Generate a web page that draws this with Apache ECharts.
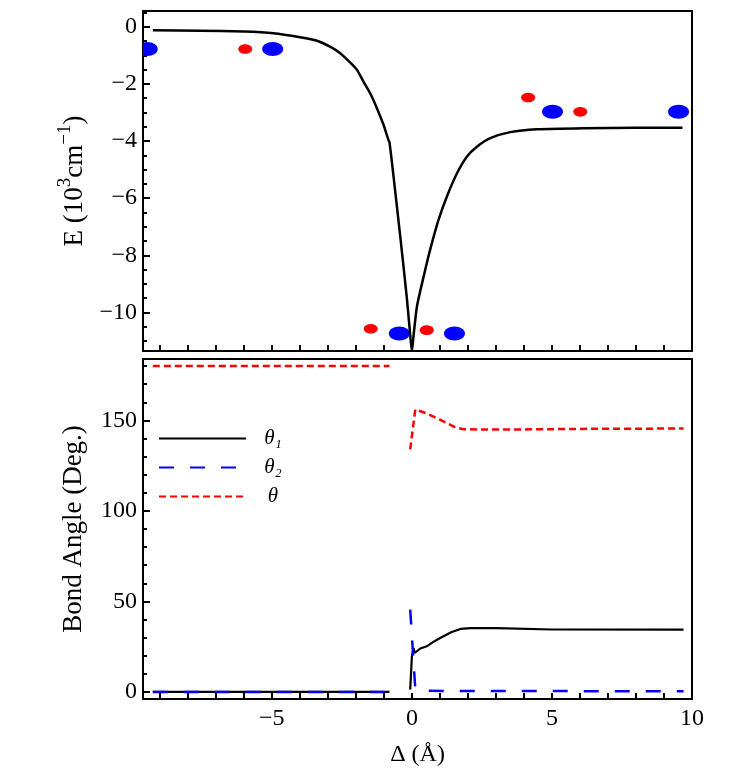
<!DOCTYPE html>
<html>
<head>
<meta charset="utf-8">
<script src="https://cdn.jsdelivr.net/npm/echarts@6/dist/echarts.min.js"></script>
<style>
html,body{margin:0;padding:0;background:#fff;}
#chart{width:746px;height:775px;}
</style>
</head>
<body>
<div id="chart"></div>
<script>
// ---- Top panel: energy curve ----
const energyDelta = [-9.25, -7.56, -6, -4.94, -3.99, -3.39, -2.92, -2.56, -2.2, -1.96, -1.73, -1.49, -1.25, -1.01, -0.84, -0.8, -0.66, -0.42, -0.18, -0.05, 0, 0.05, 0.18, 0.42, 0.65, 0.95, 1.25, 1.61, 1.96, 2.32, 2.8, 3.51, 4.46, 6.13, 8, 9.66];
const energyValues = [-0.12, -0.14, -0.17, -0.23, -0.37, -0.49, -0.70, -0.93, -1.26, -1.51, -1.92, -2.33, -2.85, -3.44, -3.96, -4.05, -5.2, -7.3, -9.5, -10.9, -11.35, -10.9, -9.79, -8.74, -7.81, -6.76, -5.94, -5.13, -4.55, -4.2, -3.9, -3.69, -3.59, -3.55, -3.54, -3.54];

// atoms drawn as ellipses
const blueAtomDelta = [-9.45, -4.97, -0.45, 1.52, 5.02, 9.52];
const blueAtomE = [-0.78, -0.78, -10.74, -10.74, -2.98, -2.98];
const redAtomDelta = [-5.95, -1.47, 0.53, 4.15, 6.01];
const redAtomE = [-0.78, -10.57, -10.62, -2.48, -2.98];

// ---- Bottom panel: bond angles ----
const theta1Delta = [-9.25, -0.8, -0.4, -0.06, 0, 0.06, 0.1, 0.3, 0.53, 0.75, 1.01, 1.4, 1.73, 2.1, 3, 5, 9.7];
const theta1Values = [0, 0, null, 1.3, 19.7, 24.3, 21.5, 24, 25.2, 27.5, 29.8, 33, 34.8, 35.3, 35.2, 34.5, 34.4];
const theta2Delta = [-9.25, -0.8, -0.4, -0.06, 0.12, 0.3, 9.7];
const theta2Values = [0, 0, null, 45.5, 2, 0.6, 0.35];
const thetaDelta = [-9.25, -0.8, -0.4, -0.06, 0.12, 0.5, 1.0, 1.5, 1.8, 2.5, 4, 6, 9.7];
const thetaValues = [180, 180, null, 134, 156, 154, 150.4, 146.5, 145.2, 144.9, 145, 145.3, 145.5];

// ---- Tick positions / labels ----
const xTickValues = [-9, -8, -7, -6, -5, -4, -3, -2, -1, 0, 1, 2, 3, 4, 5, 6, 7, 8, 9];
const xLabelValues = [-5, 0, 5, 10];
const eLabelValues = [-10, -8, -6, -4, -2, 0];
const eMinorTicks = [-11, -10.5, -9.5, -9, -8.5, -7.5, -7, -6.5, -5.5, -5, -4.5, -3.5, -3, -2.5, -1.5, -1, -0.5, 0.5];
const angleLabelValues = [0, 50, 100, 150];
const angleMinorTicks = [10, 20, 30, 40, 60, 70, 80, 90, 110, 120, 130, 140, 160, 170, 180];

const zip = (xs, ys) => xs.map((x, i) => [x, ys[i] === null ? '-' : ys[i]]);
const minus = v => String(v).replace('-', '\u2212');

const FONT = "'Liberation Serif','Times New Roman',serif";
const xMin = -9.6, xMax = 10;
const gridLeft = 143, gridW = 549;

const chart = echarts.init(document.getElementById('chart'), null, {renderer: 'canvas'});

// tick-only x axis (no labels)
function xTickAxis(gridIndex) {
  return {
    type: 'value', gridIndex, min: xMin, max: xMax, position: 'bottom', offset: 0,
    axisLine: {show: true, onZero: false, lineStyle: {color: '#000', width: 2}},
    splitLine: {show: false},
    axisTick: {show: true, inside: true, length: 6, customValues: xTickValues, lineStyle: {color: '#000', width: 2}},
    axisLabel: {show: false}
  };
}
// label-only x axis
function xLabelAxis(gridIndex) {
  return {
    type: 'value', gridIndex, min: xMin, max: xMax, position: 'bottom', offset: 0,
    name: '\u0394 (\u00c5)', nameLocation: 'middle', nameGap: 44,
    nameTextStyle: {fontFamily: FONT, fontSize: 24, color: '#000'},
    axisLine: {show: false, onZero: false},
    splitLine: {show: false},
    axisTick: {show: false},
    axisLabel: {show: true, customValues: xLabelValues, formatter: minus, fontFamily: FONT, fontSize: 24, color: '#000', margin: 8}
  };
}
function yMajor(gridIndex, min, max, labels, name, nameGap, nameStyle) {
  return {
    type: 'value', gridIndex, min, max, position: 'left',
    name, nameLocation: 'middle', nameGap,
    nameTextStyle: nameStyle,
    axisLine: {show: true, onZero: false, lineStyle: {color: '#000', width: 2}},
    splitLine: {show: false},
    axisTick: {show: true, inside: true, length: 7, customValues: labels, lineStyle: {color: '#000', width: 2}},
    axisLabel: {customValues: labels, formatter: minus, fontFamily: FONT, fontSize: 24, color: '#000', margin: 6}
  };
}
function yMinor(gridIndex, min, max, ticks) {
  return {
    type: 'value', gridIndex, min, max, position: 'left', offset: 0,
    axisLine: {show: false, onZero: false},
    splitLine: {show: false},
    axisTick: {show: true, inside: true, length: 4, customValues: ticks, lineStyle: {color: '#000', width: 2}},
    axisLabel: {show: false}
  };
}
function ellipseSeries(name, xs, ys, rx, ry, color) {
  return {
    name, type: 'custom', xAxisIndex: 0, yAxisIndex: 0, clip: true, z: 2,
    data: zip(xs, ys),
    encode: {x: 0, y: 1},
    renderItem: (params, api) => {
      const p = api.coord([api.value(0), api.value(1)]);
      return {type: 'ellipse', shape: {cx: p[0], cy: p[1], rx, ry}, style: {fill: color}};
    }
  };
}

const option = {
  animation: false,
  backgroundColor: '#fff',
  textStyle: {fontFamily: FONT},
  grid: [
    {left: gridLeft, width: gridW, top: 11, height: 340, show: true, borderColor: '#000', borderWidth: 2, backgroundColor: 'transparent'},
    {left: gridLeft, width: gridW, top: 359, height: 340, show: true, borderColor: '#000', borderWidth: 2, backgroundColor: 'transparent'}
  ],
  xAxis: [
    xTickAxis(0),
    xLabelAxis(1),
    xTickAxis(1)
  ],
  yAxis: [
    yMajor(0, -11.35, 0.55, eLabelValues, '{n|E (10}{s|3}{n|cm}{s|\u22121}{n|)}', 55,
      {fontFamily: FONT, color: '#000', rich: {
        n: {fontFamily: FONT, fontSize: 27, color: '#000', lineHeight: 32, verticalAlign: 'bottom'},
        s: {fontFamily: FONT, fontSize: 19, color: '#000', lineHeight: 32, verticalAlign: 'top'}
      }}),
    yMinor(0, -11.35, 0.55, eMinorTicks),
    yMajor(1, -3.9, 183.9, angleLabelValues, 'Bond Angle (Deg.)', 56,
      {fontFamily: FONT, fontSize: 27, color: '#000'}),
    yMinor(1, -3.9, 183.9, angleMinorTicks)
  ],
  legend: {
    show: true,
    data: ['\u03b8\u2081', '\u03b8\u2082', '\u03b8'],
    orient: 'vertical',
    left: 158, top: 428,
    itemWidth: 87, itemHeight: 14, itemGap: 8,
    padding: 0,
    itemStyle: {opacity: 0},
    formatter: name => '{t|' + name + '}',
    textStyle: {
      fontFamily: FONT, fontSize: 21, color: '#000', lineHeight: 20,
      rich: {t: {fontFamily: FONT, fontSize: 21, fontStyle: 'italic', color: '#000', width: 24, align: 'center', padding: [0, 0, 0, 10]}}
    }
  },
  series: [
    {
      name: 'E', type: 'line', xAxisIndex: 0, yAxisIndex: 0,
      data: zip(energyDelta, energyValues),
      showSymbol: false, symbol: 'none', smooth: 0.2,
      itemStyle: {color: '#000'},
      lineStyle: {color: '#000', width: 2.5}, z: 3
    },
    ellipseSeries('blue', blueAtomDelta, blueAtomE, 10.5, 7, '#0000ff'),
    ellipseSeries('red', redAtomDelta, redAtomE, 7, 4.8, '#ff0000'),
    {
      name: '\u03b8\u2081', type: 'line', xAxisIndex: 1, yAxisIndex: 2,
      data: zip(theta1Delta, theta1Values),
      showSymbol: false, symbol: 'none', connectNulls: false,
      itemStyle: {color: '#000'},
      lineStyle: {color: '#000', width: 2.2}, z: 3
    },
    {
      name: '\u03b8\u2082', type: 'line', xAxisIndex: 1, yAxisIndex: 2,
      data: zip(theta2Delta, theta2Values),
      showSymbol: false, symbol: 'none', connectNulls: false,
      itemStyle: {color: '#0000ff'},
      lineStyle: {color: '#0000ff', width: 2.5, type: [15, 16]}, z: 4
    },
    {
      name: '\u03b8', type: 'line', xAxisIndex: 1, yAxisIndex: 2,
      data: zip(thetaDelta, thetaValues),
      showSymbol: false, symbol: 'none', connectNulls: false,
      itemStyle: {color: '#ff0000'},
      lineStyle: {color: '#ff0000', width: 2.5, type: [7, 4]}, z: 5
    }
  ]
};
chart.setOption(option);
</script>
</body>
</html>
